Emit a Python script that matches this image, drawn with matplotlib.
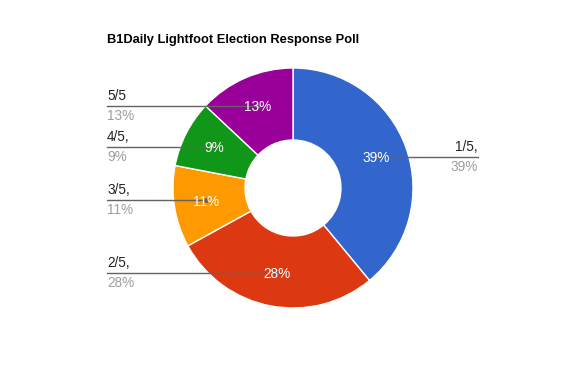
import numpy as np
import matplotlib
matplotlib.use("Agg")
import matplotlib.pyplot as plt

# poll results
labels = ["1/5,", "2/5,", "3/5,", "4/5,", "5/5"]
shares = [39, 28, 11, 9, 13]
colors = ["#3366cc", "#dc3912", "#ff9900", "#109618", "#990099"]
title = "B1Daily Lightfoot Election Response Poll"

plt.rcParams['font.family'] = ['Liberation Sans', 'DejaVu Sans']

W, H = 567, 365
fig = plt.figure(figsize=(W / 100, H / 100), dpi=100)
ax = fig.add_axes([0, 0, 1, 1])

cx, cy = 293, H - 188   # donut center (pixel space, y flipped)
r_out, r_in = 120, 48
r_lab = 88

wedges, _, pcts = ax.pie(shares, colors=colors, startangle=90, counterclock=False,
                         center=(cx, cy), radius=r_out, autopct='%d%%',
                         pctdistance=r_lab / r_out, frame=True,
                         wedgeprops=dict(width=r_out - r_in, edgecolor='white', linewidth=1),
                         textprops=dict(color='white', fontsize=9.8))
ax.set_xlim(0, W)
ax.set_ylim(0, H)
ax.set_aspect('equal')
ax.axis('off')

# leader lines + side labels
left_x, right_x = 107, 478
for w, lab, s in zip(wedges, labels, shares):
    mid = np.deg2rad((w.theta1 + w.theta2) / 2)
    px = cx + r_lab * np.cos(mid)
    py = cy + r_lab * np.sin(mid) + 1.5
    if px > cx:
        ax.plot([px, right_x], [py, py], color='#636363', lw=1, zorder=5)
        ax.text(right_x, py + 3, lab, ha='right', va='bottom', fontsize=9.8, color='#222222')
        ax.text(right_x, py - 3, f"{s}%", ha='right', va='top', fontsize=9.8, color='#9e9e9e')
    else:
        ax.plot([left_x, px], [py, py], color='#636363', lw=1, zorder=5)
        ax.text(left_x, py + 3, lab, ha='left', va='bottom', fontsize=9.8, color='#222222')
        ax.text(left_x, py - 3, f"{s}%", ha='left', va='top', fontsize=9.8, color='#9e9e9e')
    ax.plot(px, py, 'o', color='#636363', ms=2.5, zorder=6)

for t in pcts:
    t.set_zorder(7)

ax.text(107, H - 40, title, ha='left', va='center', fontsize=9.3, fontweight='bold', color='#000000')

fig.savefig("out.png", dpi=100)
